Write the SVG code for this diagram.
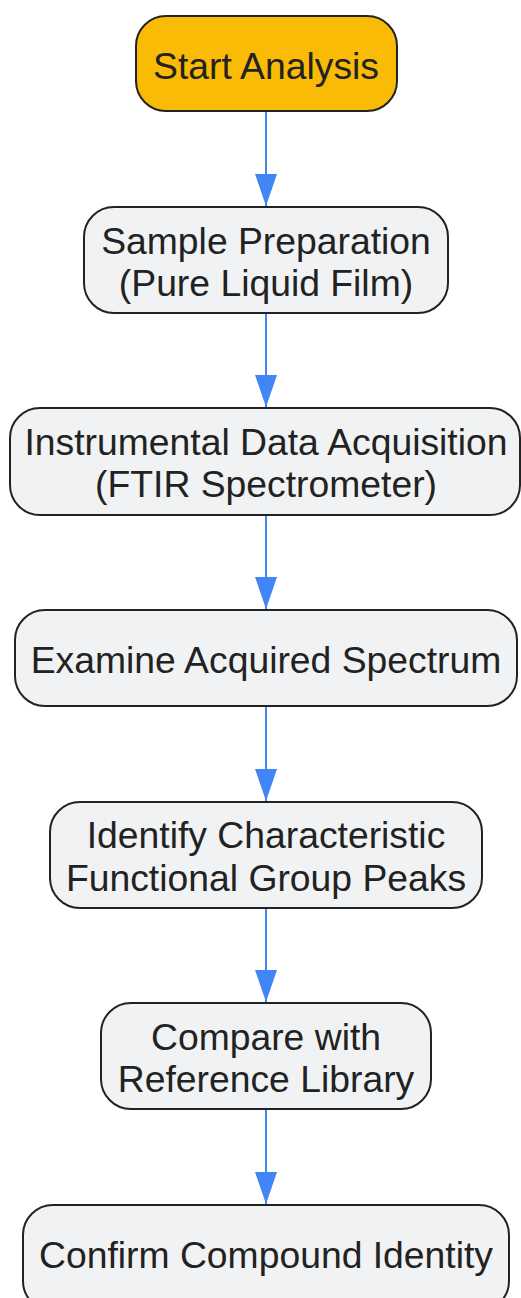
<svg xmlns="http://www.w3.org/2000/svg" width="521" height="1298" viewBox="0 0 521 1298">
<defs>
<marker id="ah" markerUnits="userSpaceOnUse" markerWidth="32" markerHeight="22" refX="32" refY="11" orient="auto" viewBox="0 0 32 22">
<path d="M0,0 L32,11 L0,22 Z" fill="#4285F4"/>
</marker>
<style>
.n rect{fill:#F1F2F4;stroke:#222;stroke-width:2}
.n.s rect{fill:#F9BB06}
.n text{font-family:"Liberation Sans",Arial,sans-serif;font-size:37.3px;fill:#222;text-anchor:middle}
.c line{stroke:#4285F4;stroke-width:2;marker-end:url(#ah)}
</style>
</defs>
<rect width="521" height="1298" fill="#fff"/>
<g class="c" id="connectors">
<line x1="266" y1="111" x2="266" y2="206"/>
<line x1="266" y1="313" x2="266" y2="407"/>
<line x1="266" y1="515" x2="266" y2="609"/>
<line x1="266" y1="706" x2="266" y2="801"/>
<line x1="266" y1="908" x2="266" y2="1002"/>
<line x1="266" y1="1109" x2="266" y2="1204"/>
</g>
<g class="n s" id="n1"><rect x="136" y="16" width="261" height="95" rx="30"/><text x="266" y="79">Start Analysis</text></g>
<g class="n" id="n2"><rect x="84" y="207" width="364" height="106" rx="30"/><text x="266" y="254">Sample Preparation</text><text x="266" y="296">(Pure Liquid Film)</text></g>
<g class="n" id="n3"><rect x="10" y="408" width="510" height="107" rx="30"/><text x="266" y="455">Instrumental Data Acquisition</text><text x="266" y="497">(FTIR Spectrometer)</text></g>
<g class="n" id="n4"><rect x="15" y="610" width="502" height="96" rx="30"/><text x="266" y="673">Examine Acquired Spectrum</text></g>
<g class="n" id="n5"><rect x="50" y="802" width="432" height="106" rx="30"/><text x="266" y="848">Identify Characteristic</text><text x="266" y="891">Functional Group Peaks</text></g>
<g class="n" id="n6"><rect x="101" y="1003" width="330" height="106" rx="30"/><text x="266" y="1050">Compare with</text><text x="266" y="1092">Reference Library</text></g>
<g class="n" id="n7"><rect x="23" y="1205" width="486" height="106" rx="30"/><text x="266" y="1268">Confirm Compound Identity</text></g>
</svg>
